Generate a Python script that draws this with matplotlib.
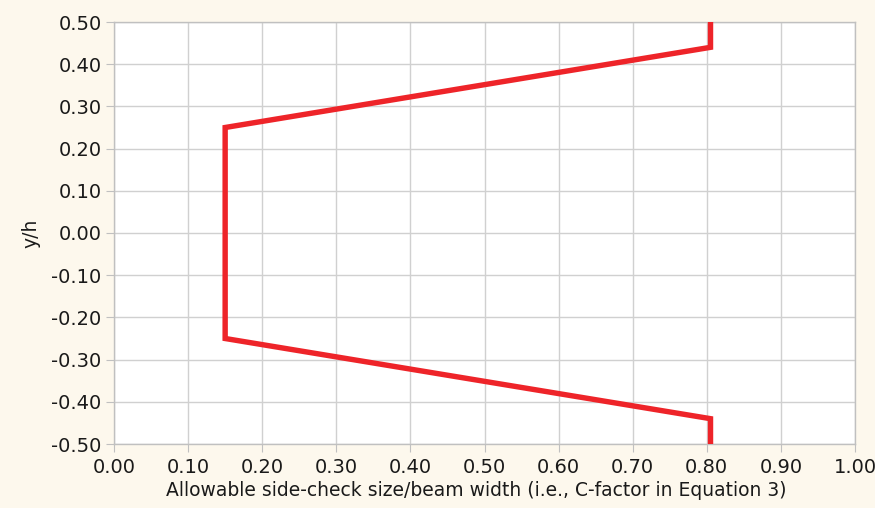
import matplotlib
matplotlib.use("Agg")
import matplotlib.pyplot as plt
from matplotlib.ticker import FormatStrFormatter

# Data
c_factor = [0.805, 0.805, 0.15, 0.15, 0.805, 0.805]
y_over_h = [0.50, 0.44, 0.25, -0.25, -0.44, -0.50]

x_ticks = [0.0, 0.1, 0.2, 0.3, 0.4, 0.5, 0.6, 0.7, 0.8, 0.9, 1.0]
y_ticks = [-0.5, -0.4, -0.3, -0.2, -0.1, 0.0, 0.1, 0.2, 0.3, 0.4, 0.5]

bg = "#fdf8ed"
fig = plt.figure(figsize=(8.75, 5.08), dpi=100, facecolor=bg)
ax = fig.add_axes([114/875, 64/508, (855-114)/875, (444-22)/508])
ax.set_facecolor("white")

ax.plot(c_factor, y_over_h, color="#ee2429", lw=3.9, solid_joinstyle="miter", zorder=3)

ax.set_xlim(0, 1)
ax.set_ylim(-0.5, 0.5)
ax.set_xticks(x_ticks)
ax.set_yticks(y_ticks)
ax.xaxis.set_major_formatter(FormatStrFormatter("%.2f"))
ax.yaxis.set_major_formatter(FormatStrFormatter("%.2f"))
ax.grid(True, color="#d0d0d0", lw=1.0)
ax.set_axisbelow(True)
for s in ax.spines.values():
    s.set_color("#c0c0c0")
    s.set_linewidth(1.0)
ax.tick_params(axis="both", direction="out", length=6, color="#c0c0c0",
               labelsize=14, labelcolor="#1a1a1a", pad=3)
ax.tick_params(axis="x", pad=4)

ax.set_xlabel("Allowable side-check size/beam width (i.e., C-factor in Equation 3)",
              fontsize=13.5, color="#1a1a1a", labelpad=3)
ax.xaxis.label.set_x((476 - 114) / 741)
ax.set_ylabel("y/h", fontsize=13.5, color="#1a1a1a", labelpad=8)

fig.savefig("out.png", dpi=100, facecolor=bg)
